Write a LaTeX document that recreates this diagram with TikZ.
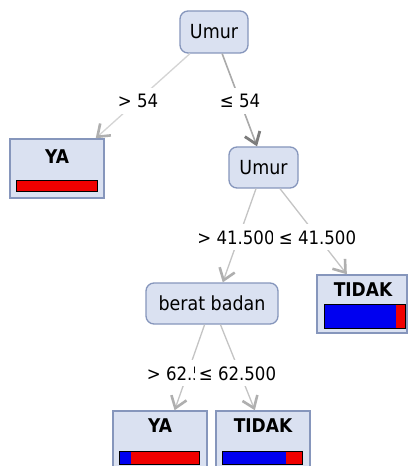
\documentclass[tikz,border=0pt]{standalone}
\usepackage{fontspec}
\setmainfont{DejaVu Sans}[FakeStretch=0.9]
\usetikzlibrary{arrows.meta}
\definecolor{nfill}{RGB}{218,225,241}
\definecolor{nborder}{RGB}{134,150,188}
\definecolor{edgelight}{RGB}{212,212,212}
\definecolor{edgemid}{RGB}{196,196,196}
\definecolor{edgedark}{RGB}{170,170,170}
\definecolor{tiplight}{RGB}{175,175,175}
\definecolor{tipdark}{RGB}{125,125,125}
\definecolor{barblue}{RGB}{0,0,240}
\definecolor{barred}{RGB}{240,0,0}
\tikzset{
 split/.style={draw=nborder, fill=nfill, line width=1.3bp, rounded corners=8bp, inner sep=0pt, font=\fontsize{19.5}{20}\selectfont},
 leafbox/.style={draw=nborder, fill=nfill, line width=1.5bp, inner sep=0pt},
 leaflabel/.style={inner sep=0pt, font=\fontsize{19}{20}\selectfont\bfseries},
 edge/.style={draw=edgemid, line width=1.3bp, -{Straight Barb[length=11bp,width=16bp,line width=2.6bp,color=tiplight]}},
 edgestrong/.style={draw=edgedark, line width=1.6bp, -{Straight Barb[length=11bp,width=16bp,line width=2.8bp,color=tipdark]}},
 elabel/.style={fill=white, inner xsep=2bp, inner ysep=6bp, anchor=base, font=\fontsize{18.5}{20}\selectfont},
 bar/.style={draw=black, line width=1bp},
}
\begin{document}
\begin{tikzpicture}[x=1bp,y=-1bp]
\clip (0,0) rectangle (408,466);
\fill[white] (0,0) rectangle (408,466);
% nodes
\node[split, minimum width=68bp, minimum height=42bp] (root) at (214,32) {Umur};
\node[leafbox, minimum width=94bp, minimum height=59bp] (ya1) at (57,168.5) {};
\node[leaflabel] (ya1t) at (57,157) {YA};
\node[split, minimum width=69bp, minimum height=41bp] (umur2) at (263.5,167.5) {Umur};
\node[split, minimum width=132bp, minimum height=41bp] (berat) at (212,303.5) {berat badan};
\node[leafbox, minimum width=90bp, minimum height=58bp] (tidak1) at (362,304) {};
\node[leaflabel] (tidak1t) at (363,289.5) {TIDAK};
\node[leafbox, minimum width=94bp, minimum height=64bp] (ya2) at (160,443) {};
\node[leaflabel] (ya2t) at (160,426) {YA};
\node[leafbox, minimum width=94bp, minimum height=64bp] (tidak2) at (263,443) {};
\node[leaflabel] (tidak2t) at (263,426) {TIDAK};
% bars
\fill[barred] (16,181) rectangle (97,192);
\draw[bar] (16,181) rectangle (97,192);
\fill[barblue] (324,304) rectangle (396,328);
\fill[barred] (396,304) rectangle (405,328);
\draw[bar] (324,304) rectangle (405,328);
\fill[barblue] (119,451) rectangle (131,464);
\fill[barred] (131,451) rectangle (199,464);
\draw[bar] (119,451) rectangle (199,464);
\fill[barblue] (222,451) rectangle (286,464);
\fill[barred] (286,451) rectangle (302,464);
\draw[bar] (222,451) rectangle (302,464);
% edges
\draw[edge, draw=edgelight] (root) -- (ya1.38);
\draw[edgestrong] (root) -- (umur2.107);
\draw[edge] (umur2) -- (berat.63);
\draw[edge] (umur2) -- (tidak1.117);
\draw[edge] (berat) -- (ya2.66);
\draw[edge] (berat) -- (tidak2.104);
% edge labels
\node[elabel] (l1) at (138,107.5) {> 54};
\node[elabel] (l2) at (240,107.5) {≤ 54};
\node[elabel] (l3) at (236,244) {> 41.500};
\node[elabel, minimum width=89bp] (l4) at (317.5,244) {≤ 41.500};
\node[elabel] (l5) at (185.5,380) {> 62.500};
\node[elabel, minimum width=86bp] (l6) at (237.5,380) {≤ 62.500};
\end{tikzpicture}
\end{document}
